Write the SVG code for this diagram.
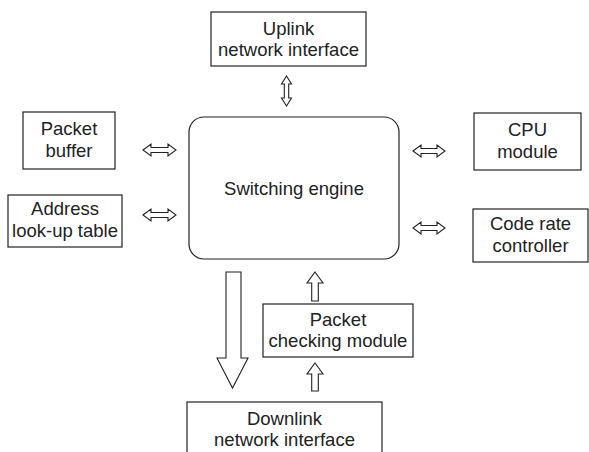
<svg xmlns="http://www.w3.org/2000/svg" width="589" height="452" viewBox="0 0 589 452">
<style>
.box{fill:#fff;stroke:#222;stroke-width:1.2}
.t{font-family:"Liberation Sans",Arial,sans-serif;font-size:18.5px;fill:#222;text-anchor:middle}
.ar{fill:#fff;stroke:#222;stroke-width:1.1;stroke-linejoin:miter}
</style>
<rect width="589" height="452" fill="#fff"/>
<g id="uplink"><rect class="box" x="211" y="12" width="155" height="54"/><text class="t" x="288.5" y="35">Uplink</text><text class="t" x="288.5" y="56">network interface</text></g>
<g id="switching"><rect class="box" x="189" y="117" width="210" height="142" rx="15"/><text class="t" x="294" y="195">Switching engine</text></g>
<g id="packetbuffer"><rect class="box" x="23" y="112" width="92" height="57"/><text class="t" x="69" y="135">Packet</text><text class="t" x="69" y="157">buffer</text></g>
<g id="address"><rect class="box" x="8" y="195" width="114" height="52"/><text class="t" x="65" y="215">Address</text><text class="t" x="65" y="237">look-up table</text></g>
<g id="cpu"><rect class="box" x="474" y="113" width="107" height="57"/><text class="t" x="527.5" y="136">CPU</text><text class="t" x="527.5" y="158">module</text></g>
<g id="coderate"><rect class="box" x="473" y="209" width="115" height="53"/><text class="t" x="530.5" y="230">Code rate</text><text class="t" x="530.5" y="252">controller</text></g>
<g id="checking"><rect class="box" x="263" y="304" width="150" height="53"/><text class="t" x="338" y="326">Packet</text><text class="t" x="338" y="347">checking module</text></g>
<g id="downlink"><rect class="box" x="187" y="402" width="195" height="60"/><text class="t" x="284.5" y="425">Downlink</text><text class="t" x="284.5" y="446">network interface</text></g>
<g id="connectors">
<path class="ar" d="M143,150 L151,144 L151,147.5 L168,147.5 L168,144 L176,150 L168,156 L168,152.5 L151,152.5 L151,156 Z"/>
<path class="ar" d="M143,215 L151,209 L151,212.5 L168,212.5 L168,209 L176,215 L168,221 L168,217.5 L151,217.5 L151,221 Z"/>
<path class="ar" d="M413,151 L421,145 L421,148.5 L437,148.5 L437,145 L445,151 L437,157 L437,153.5 L421,153.5 L421,157 Z"/>
<path class="ar" d="M413,228 L421,222 L421,225.5 L437,225.5 L437,222 L445,228 L437,234 L437,230.5 L421,230.5 L421,234 Z"/>
<path class="ar" d="M286.5,76 L291.5,84 L288.7,84 L288.7,98 L291.5,98 L286.5,106 L281.5,98 L284.3,98 L284.3,84 L281.5,84 Z"/>
<path class="ar" d="M315,272 L323,283 L318.3,283 L318.3,301 L311.7,301 L311.7,283 L307,283 Z"/>
<path class="ar" d="M315,363 L323,374 L318.3,374 L318.3,391 L311.7,391 L311.7,374 L307,374 Z"/>
<path class="ar" d="M226,272 L241,272 L241,358 L248,358 L232.5,388 L217,358 L226,358 Z"/>
</g>
</svg>
